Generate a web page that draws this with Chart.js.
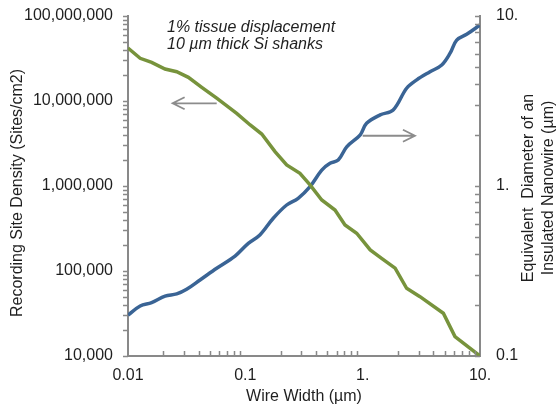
<!DOCTYPE html>
<html>
<head>
<meta charset="utf-8">
<script src="https://cdn.jsdelivr.net/npm/chart.js@4.4.0/dist/chart.umd.min.js"></script>
<style>
html, body { margin: 0; padding: 0; background: #fff; }
</style>
</head>
<body>
<canvas id="densityChart" width="556" height="406"></canvas>
<script>
// values
const greenWidth = [0.01, 0.0127, 0.0159, 0.0207, 0.026, 0.0327, 0.0425, 0.057, 0.0844, 0.11, 0.138, 0.179, 0.225, 0.292, 0.356, 0.448, 0.581, 0.707, 0.889, 1.16, 1.45, 1.89, 2.37, 3.08, 4.87, 6.12, 10];
const greenDensity = [4.2e7, 3.18e7, 2.85e7, 2.38e7, 2.21e7, 1.9e7, 1.45e7, 1.08e7, 7.16e6, 5.22e6, 4.09e6, 2.54e6, 1.77e6, 1.41e6, 1.03e6, 6.84e5, 5.22e5, 3.48e5, 2.78e5, 1.77e5, 1.41e5, 1.08e5, 6.26e4, 4.99e4, 3.18e4, 1.69e4, 1.0e4];

const blueWidth = [0.01, 0.0127, 0.0159, 0.0207, 0.026, 0.0316, 0.0411, 0.057, 0.0817, 0.106, 0.133, 0.173, 0.225, 0.282, 0.356, 0.448, 0.527, 0.619, 0.731, 0.954, 1.08, 1.41, 1.82, 2.37, 2.89, 3.75, 4.72, 5.56, 6.33, 7.7, 10];
const blueDiameter = [0.174, 0.197, 0.206, 0.225, 0.232, 0.247, 0.28, 0.328, 0.387, 0.46, 0.515, 0.646, 0.773, 0.847, 0.991, 1.24, 1.36, 1.42, 1.70, 2.0, 2.34, 2.62, 2.80, 3.76, 4.21, 4.70, 5.15, 6.04, 7.22, 7.8, 8.85];

const xTickValues = [0.01, 0.1, 1, 10];
const xTickLabels = ['0.01', '0.1', '1.', '10.'];
const yTickValues = [1e4, 1e5, 1e6, 1e7, 1e8];
const yTickLabels = ['10,000', '100,000', '1,000,000', '10,000,000', '100,000,000'];
const y2TickValues = [0.1, 1, 10];
const y2TickLabels = ['0.1', '1.', '10.'];

const noteLines = ['1% tissue displacement', '10 \u00b5m thick Si shanks'];
const leftTitle = 'Recording Site Density (Sites/cm2)';
const rightTitle = ['Equivalent  Diameter of an', 'Insulated Nanowire (\u00b5m)'];

// arrows in data units: [x from, x to, y on left axis]
const arrows = [
    [0.057, 0.024, 9.4e6],
    [1.0, 2.79, 3.9e6]
];

const FONT = '"Liberation Sans", Arial, sans-serif';
const axisColor = '#898989';
const textColor = '#1f1f1f';

function fixedTicks(values) {
    return function (scale) {
        scale.ticks = values.map(v => ({ value: v }));
    };
}

function fixWidth(w) {
    return function (s) {
        s.width = w;
        s.paddingTop = 0;
        s.paddingBottom = 0;
    };
}

const decor = {
    id: 'decor',
    afterDraw(chart) {
        const ctx = chart.ctx;
        const area = chart.chartArea;
        const { x, y, y2 } = chart.scales;
        ctx.save();

        // tick marks
        ctx.strokeStyle = axisColor;
        ctx.lineWidth = 1.5;
        ctx.beginPath();
        for (let e = 4; e < 8; e++) {
            for (let k = 1; k <= 9; k++) {
                const py = Math.round(y.getPixelForValue(k * Math.pow(10, e))) + 0.5;
                ctx.moveTo(area.left, py);
                ctx.lineTo(area.left - 5, py);
            }
        }
        ctx.moveTo(area.left, Math.round(y.top) + 0.5);
        ctx.lineTo(area.left - 5, Math.round(y.top) + 0.5);
        for (let e = -2; e < 1; e++) {
            for (let k = 2; k <= 9; k++) {
                const px = Math.round(x.getPixelForValue(k * Math.pow(10, e))) + 0.5;
                ctx.moveTo(px, area.bottom);
                ctx.lineTo(px, area.bottom - 5);
            }
        }
        for (let e = -1; e < 1; e++) {
            for (let k = 1; k <= 9; k++) {
                const py = Math.round(y2.getPixelForValue(k * Math.pow(10, e))) + 0.5;
                ctx.moveTo(area.right, py);
                ctx.lineTo(area.right - 5, py);
            }
        }
        ctx.moveTo(area.right, Math.round(y2.top) + 0.5);
        ctx.lineTo(area.right - 5, Math.round(y2.top) + 0.5);
        ctx.stroke();

        // arrows
        ctx.strokeStyle = '#8c8c8c';
        ctx.lineWidth = 1.8;
        arrows.forEach(a => {
            const x0 = x.getPixelForValue(a[0]);
            const x1 = x.getPixelForValue(a[1]);
            const py = y.getPixelForValue(a[2]);
            const dir = x1 > x0 ? 1 : -1;
            ctx.beginPath();
            ctx.moveTo(x0, py);
            ctx.lineTo(x1, py);
            ctx.moveTo(x1 - dir * 12, py - 6);
            ctx.lineTo(x1, py);
            ctx.lineTo(x1 - dir * 12, py + 6);
            ctx.stroke();
        });

        // note
        ctx.fillStyle = textColor;
        ctx.font = 'italic 16px ' + FONT;
        ctx.textAlign = 'left';
        ctx.textBaseline = 'alphabetic';
        ctx.fillText(noteLines[0], 167, 32);
        ctx.fillText(noteLines[1], 167, 48.5);

        // vertical titles
        ctx.font = '16px ' + FONT;
        ctx.textAlign = 'center';
        ctx.textBaseline = 'middle';
        ctx.save();
        ctx.translate(17.5, 193);
        ctx.rotate(-Math.PI / 2);
        ctx.fillText(leftTitle, 0, 0);
        ctx.restore();
        rightTitle.forEach((t, i) => {
            ctx.save();
            ctx.translate(529 + i * 19.5, 188);
            ctx.rotate(-Math.PI / 2);
            ctx.fillText(t, 0, 0);
            ctx.restore();
        });
        ctx.restore();
    }
};

new Chart(document.getElementById('densityChart'), {
    type: 'line',
    data: {
        datasets: [{
            label: 'Recording Site Density',
            data: greenWidth.map((w, i) => ({ x: w, y: greenDensity[i] })),
            yAxisID: 'y',
            borderColor: '#77933C',
            borderWidth: 3.5,
            pointRadius: 0,
            tension: 0,
            fill: false
        }, {
            label: 'Equivalent Diameter',
            data: blueWidth.map((w, i) => ({ x: w, y: blueDiameter[i] })),
            yAxisID: 'y2',
            borderColor: '#3A6495',
            borderWidth: 3.5,
            pointRadius: 0,
            tension: 0.35,
            fill: false
        }]
    },
    options: {
        responsive: false,
        animation: false,
        layout: { padding: { top: 16, left: 0, right: 0, bottom: 0 } },
        plugins: {
            legend: { display: false },
            tooltip: { enabled: false }
        },
        scales: {
            x: {
                type: 'logarithmic',
                position: 'bottom',
                min: 0.01,
                max: 10,
                afterBuildTicks: fixedTicks(xTickValues),
                afterFit: s => { s.height = 50; s.paddingLeft = 0; s.paddingRight = 0; },
                grid: { display: false, drawTicks: false },
                border: { display: true, color: axisColor, width: 2 },
                ticks: {
                    autoSkip: false,
                    maxRotation: 0,
                    padding: 10,
                    color: textColor,
                    font: { family: FONT, size: 16 },
                    callback: (v, i) => xTickLabels[i]
                },
                title: {
                    display: true,
                    text: 'Wire Width (\u00b5m)',
                    color: textColor,
                    font: { family: FONT, size: 16 },
                    padding: { top: 0, bottom: 0 }
                }
            },
            y: {
                type: 'logarithmic',
                position: 'left',
                min: 1e4,
                max: 1e8,
                afterBuildTicks: fixedTicks(yTickValues),
                afterFit: fixWidth(128),
                grid: { display: false, drawTicks: false },
                border: { display: true, color: axisColor, width: 2 },
                ticks: {
                    autoSkip: false,
                    padding: 15,
                    color: textColor,
                    font: { family: FONT, size: 16 },
                    callback: (v, i) => yTickLabels[i]
                }
            },
            y2: {
                type: 'logarithmic',
                position: 'right',
                min: 0.1,
                max: 10,
                afterBuildTicks: fixedTicks(y2TickValues),
                afterFit: fixWidth(76),
                grid: { display: false, drawTicks: false },
                border: { display: true, color: axisColor, width: 2 },
                ticks: {
                    autoSkip: false,
                    padding: 16,
                    color: textColor,
                    font: { family: FONT, size: 16 },
                    callback: (v, i) => y2TickLabels[i]
                }
            }
        }
    },
    plugins: [decor]
});
</script>
</body>
</html>
